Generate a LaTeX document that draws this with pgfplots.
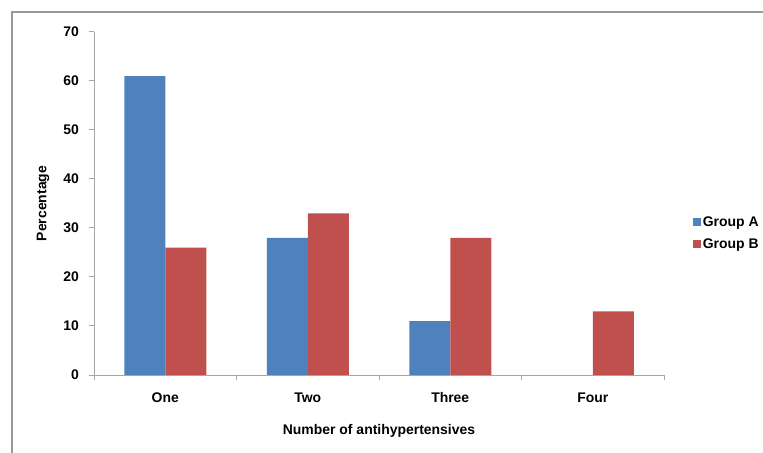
\documentclass[border=0pt]{standalone}
\usepackage{pgfplots}
\pgfplotsset{compat=1.18}
\usepackage{fontspec}
\setmainfont{Liberation Sans}
\definecolor{grpA}{HTML}{4F81BD}
\definecolor{grpB}{HTML}{C0504D}
\definecolor{axgray}{HTML}{A6A6A6}
\begin{document}
\begin{tikzpicture}
\useasboundingbox (0,0) rectangle (763bp,453bp);
\draw[line width=1.6bp, color=black!40] (12bp,-2bp) -- (12bp,441bp) -- (765bp,441bp);
\begin{axis}[
  at={(94bp,78bp)}, anchor=south west,
  scale only axis, width=570bp, height=343bp,
  font=\fontsize{14}{16}\selectfont\bfseries,
  /pgf/number format/assume math mode=true,
  ybar=0pt, bar width=41bp,
  xmin=-0.5, xmax=3.5, ymin=0, ymax=70,
  xtick={0,1,2,3}, xticklabels={One,Two,Three,Four},
  minor xtick={-0.5,0.5,1.5,2.5,3.5},
  ytick={0,10,...,70},
  axis lines*=left,
  axis line style={axgray, line width=1bp},
  tick align=outside,
  major tick length=5bp, minor tick length=5bp,
  tick style={axgray, line width=1bp},
  major x tick style={draw=none},
  xticklabel style={anchor=center, inner sep=0pt, yshift=-18bp},
  yticklabel style={anchor=east, inner sep=0pt, xshift=-10bp},
  xlabel={Number of antihypertensives},
  ylabel={Percentage},
  xlabel style={at={(axis description cs:0.5,-0.163)}, anchor=center},
  ylabel style={at={(axis description cs:-0.0895,0.5)}, anchor=center, rotate=0},
  legend style={at={(1.045,0.414)}, anchor=west, draw=none, fill=none,
    row sep=7bp, font=\fontsize{14}{16}\selectfont\bfseries},
  legend cell align=left,
  legend image code/.code={\fill[#1] (0bp,-4bp) rectangle (8bp,4bp);},
]
\addplot[fill=grpA, draw=none] coordinates {(0,61) (1,28) (2,11) (3,0)};
\addplot[fill=grpB, draw=none] coordinates {(0,26) (1,33) (2,28) (3,13)};
\legend{Group A, Group B}
\end{axis}
\end{tikzpicture}
\end{document}
